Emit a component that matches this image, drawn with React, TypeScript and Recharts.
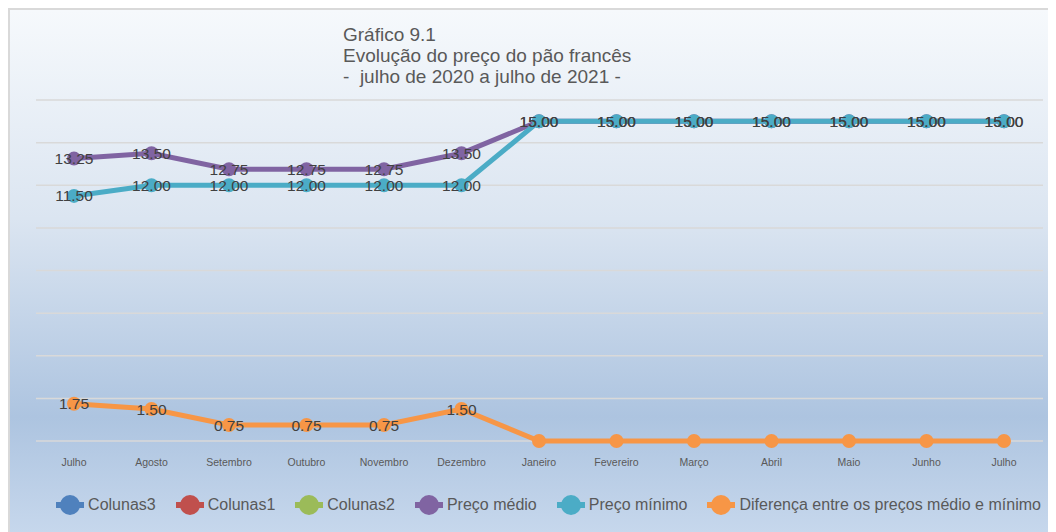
import React from "react"
import { LineChart, Line, XAxis, YAxis, CartesianGrid, Legend, LabelList } from "recharts"

const meses = [
  "Julho", "Agosto", "Setembro", "Outubro", "Novembro", "Dezembro",
  "Janeiro", "Fevereiro", "Março", "Abril", "Maio", "Junho", "Julho",
]
const precoMedio = [13.25, 13.5, 12.75, 12.75, 12.75, 13.5, 15, 15, 15, 15, 15, 15, 15]
const precoMinimo = [11.5, 12, 12, 12, 12, 12, 15, 15, 15, 15, 15, 15, 15]
const diferenca = [1.75, 1.5, 0.75, 0.75, 0.75, 1.5, 0, 0, 0, 0, 0, 0, 0]
const yTicks = [0, 2, 4, 6, 8, 10, 12, 14, 16]
const legendOrder = [
  "Colunas3", "Colunas1", "Colunas2", "Preço médio", "Preço mínimo",
  "Diferença entre os preços médio e mínimo",
]

const data = meses.map((mes, i) => ({
  mes,
  medio: precoMedio[i],
  minimo: precoMinimo[i],
  diferenca: diferenca[i],
}))

const FONT = '"Liberation Sans", Arial, sans-serif'

const renderLabel = (props: any) => {
  const { x, y, value } = props
  if (!value) return null
  return (
    <text
      x={x}
      y={y}
      textAnchor="middle"
      dominantBaseline="central"
      fontSize={15.5}
      fill="#404040"
      fontFamily={FONT}
    >
      {Number(value).toFixed(2)}
    </text>
  )
}

const renderLegend = (props: any) => {
  const items = [...(props.payload || [])].sort(
    (a: any, b: any) => legendOrder.indexOf(a.value) - legendOrder.indexOf(b.value)
  )
  return (
    <div
      style={{
        display: "flex",
        justifyContent: "center",
        alignItems: "center",
        gap: 20,
        fontFamily: FONT,
        paddingTop: 23,
        transform: "translateX(9px)",
        whiteSpace: "nowrap",
      }}
    >
      {items.map((entry: any) => (
        <div key={entry.value} style={{ display: "flex", alignItems: "center", flexShrink: 0 }}>
          <svg width={28} height={22} style={{ marginRight: 4 }}>
            <rect x={0} y={8} width={28} height={6} fill={entry.color} />
            <circle cx={14} cy={11} r={10} fill={entry.color} />
          </svg>
          <span style={{ fontSize: 16, color: "#595959" }}>{entry.value}</span>
        </div>
      ))}
    </div>
  )
}

export default function App() {
  return (
    <div
      style={{
        position: "relative",
        width: 1046,
        height: 522,
        borderTop: "2px solid #d9d9d9",
        borderLeft: "2px solid #d9d9d9",
        background: "linear-gradient(to bottom, #f6f9fc 0%, #dbe5f1 40%, #adc4e0 78%, #c6d7ec 100%)",
        overflow: "hidden",
      }}
    >
      <div
        style={{
          position: "absolute",
          left: 333,
          top: 14,
          fontFamily: FONT,
          fontSize: 19,
          lineHeight: "21px",
          color: "#595959",
          whiteSpace: "pre",
        }}
      >
        {"Gráfico 9.1\nEvolução do preço do pão francês\n-  julho de 2020 a julho de 2021 -"}
      </div>
      <LineChart width={1046} height={522} data={data} margin={{ top: 90, right: 13, left: 26, bottom: 10 }}>
        <CartesianGrid vertical={false} stroke="#d9d9d9" strokeWidth={1.5} />
        <XAxis
          dataKey="mes"
          axisLine={false}
          tickLine={false}
          interval={0}
          height={30}
          tickMargin={12}
          padding={{ left: 38, right: 39 }}
          tick={{ fontSize: 10.5, fill: "#595959", fontFamily: FONT }}
        />
        <YAxis hide domain={[0, 16]} ticks={yTicks} />
        <Legend verticalAlign="bottom" height={51} content={renderLegend} />
        <Line name="Colunas3" dataKey="c3" stroke="#4f81bd" isAnimationActive={false} />
        <Line name="Colunas1" dataKey="c1" stroke="#c0504d" isAnimationActive={false} />
        <Line name="Colunas2" dataKey="c2" stroke="#9bbb59" isAnimationActive={false} />
        <Line
          name="Preço médio"
          dataKey="medio"
          stroke="#8064a2"
          strokeWidth={5}
          dot={{ r: 7, fill: "#8064a2", stroke: "none" }}
          isAnimationActive={false}
        >
          <LabelList dataKey="medio" content={renderLabel} />
        </Line>
        <Line
          name="Preço mínimo"
          dataKey="minimo"
          stroke="#4bacc6"
          strokeWidth={5}
          dot={{ r: 7, fill: "#4bacc6", stroke: "none" }}
          isAnimationActive={false}
        >
          <LabelList dataKey="minimo" content={renderLabel} />
        </Line>
        <Line
          name="Diferença entre os preços médio e mínimo"
          dataKey="diferenca"
          stroke="#f79646"
          strokeWidth={5}
          dot={{ r: 7, fill: "#f79646", stroke: "none" }}
          isAnimationActive={false}
        >
          <LabelList dataKey="diferenca" content={renderLabel} />
        </Line>
      </LineChart>
    </div>
  )
}
